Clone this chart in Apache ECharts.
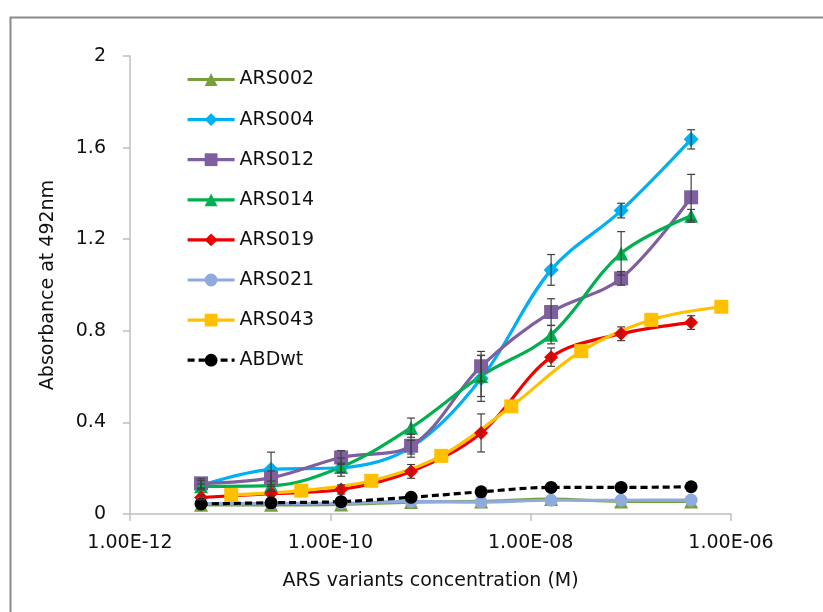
<!DOCTYPE html>
<html><head><meta charset="utf-8">
<script src="https://cdn.jsdelivr.net/npm/echarts@6/dist/echarts.min.js"></script>
<style>html,body{margin:0;padding:0;background:#fff}#c{width:823px;height:612px}</style>
</head><body><div id="c"></div>
<script>
// concentrations (M)
const concMain = [5.12e-12, 2.56e-11, 1.28e-10, 6.4e-10, 3.2e-9, 1.6e-8, 8e-8, 4e-7];
const conc043  = [1.024e-11, 5.12e-11, 2.56e-10, 1.28e-9, 6.4e-9, 3.2e-8, 1.6e-7, 8e-7];
const xTicks = ['1.00E-12','1.00E-10','1.00E-08','1.00E-06'];

const names = ['ARS002','ARS004','ARS012','ARS014','ARS019','ARS021','ARS043','ABDwt'];
const ARS002 = [0.040, 0.040, 0.042, 0.052, 0.055, 0.065, 0.055, 0.055];
const ARS004 = [0.125, 0.195, 0.202, 0.292, 0.592, 1.066, 1.325, 1.636];
const ARS012 = [0.134, 0.158, 0.247, 0.298, 0.645, 0.882, 1.029, 1.383];
const ARS014 = [0.121, 0.124, 0.205, 0.377, 0.603, 0.783, 1.138, 1.302];
const ARS019 = [0.072, 0.089, 0.107, 0.186, 0.354, 0.685, 0.787, 0.836];
const ARS021 = [0.045, 0.046, 0.047, 0.055, 0.052, 0.060, 0.060, 0.061];
const ARS043 = [0.083, 0.102, 0.145, 0.254, 0.470, 0.711, 0.848, 0.905];
const ABDwt  = [0.044, 0.049, 0.054, 0.073, 0.097, 0.116, 0.116, 0.119];

const err004 = [0.02, 0.075, 0.02, 0.03, 0.10, 0.067, 0.032, 0.042];
const err012 = [0.02, 0.03, 0.03, 0.05, 0.065, 0.058, 0.03, 0.10];
const err014 = [0.01, 0.02, 0.04, 0.042, 0.09, 0.04, 0.095, 0.028];
const err019 = [0.01, 0.01, 0.02, 0.03, 0.083, 0.04, 0.03, 0.03];

const colors = {ARS002:'#77A03C',ARS004:'#00B0F0',ARS012:'#7F5F9F',ARS014:'#00B050',
  ARS019:'#EE0000',ARS021:'#8FAADC',ARS043:'#FFC000',ABDwt:'#000000'};
const symbols = {ARS002:'triangle',ARS004:'diamond',ARS012:'rect',ARS014:'triangle',
  ARS019:'diamond',ARS021:'circle',ARS043:'rect',ABDwt:'circle'};
const sizes = {ARS002:14,ARS004:15,ARS012:14,ARS014:14,ARS019:14,ARS021:13,ARS043:14,ABDwt:13};
const values = {ARS002,ARS004,ARS012,ARS014,ARS019,ARS021,ARS043,ABDwt};

const FONT = 'DejaVu Sans';

function pair(xs, ys){ return xs.map((x,i)=>[x, ys[i]]); }

const series = names.map(n => ({
  name: n, type: 'line', smooth: 0.35,
  data: pair(n === 'ARS043' ? conc043 : concMain, values[n]),
  symbol: symbols[n], symbolSize: sizes[n],
  lineStyle: {color: colors[n], width: 3.2, type: n === 'ABDwt' ? [7,4] : 'solid'},
  itemStyle: {color: colors[n]},
  emphasis: {disabled: true},
  z: 2
}));

function errSeries(ys, es){
  return {
    type: 'custom', silent: true, z: 5,
    data: concMain.map((x,i)=>[x, ys[i], es[i]]),
    renderItem: function(params, api){
      const x = api.value(0), y = api.value(1), e = api.value(2);
      const top = api.coord([x, y + e]);
      const bot = api.coord([x, y - e]);
      const w = 4;
      const st = {stroke: '#404040', lineWidth: 1.2};
      return {type: 'group', children: [
        {type:'line', shape:{x1: top[0], y1: top[1], x2: bot[0], y2: bot[1]}, style: st},
        {type:'line', shape:{x1: top[0]-w, y1: top[1], x2: top[0]+w, y2: top[1]}, style: st},
        {type:'line', shape:{x1: bot[0]-w, y1: bot[1], x2: bot[0]+w, y2: bot[1]}, style: st}
      ]};
    }
  };
}
series.push(errSeries(ARS004, err004), errSeries(ARS012, err012),
            errSeries(ARS014, err014), errSeries(ARS019, err019));

const chart = echarts.init(document.getElementById('c'), null, {renderer: 'canvas'});
chart.setOption({
  animation: false,
  backgroundColor: '#fff',
  color: names.map(n => colors[n]),
  grid: {left: 130, right: 92, top: 56, bottom: 98, containLabel: false},
  graphic: [{type: 'rect', left: 8, top: 15, shape: {width: 900, height: 700},
    style: {fill: 'none', stroke: '#8a8a8a', lineWidth: 2}, silent: true}],
  legend: {
    data: names, orient: 'vertical', left: 181, top: 65,
    itemWidth: 47, itemHeight: 16, itemGap: 21.1,
    lineStyle: {width: 3.2},
    textStyle: {fontFamily: FONT, fontSize: 19, color: '#111'},
    selectedMode: false
  },
  xAxis: {
    type: 'log', logBase: 100, min: 1e-12, max: 1e-6,
    name: 'ARS variants concentration (M)', nameLocation: 'middle', nameGap: 58,
    nameTextStyle: {fontFamily: FONT, fontSize: 19, color: '#111'},
    axisLine: {lineStyle: {color: '#BFBFBF', width: 1.5}},
    axisTick: {show: true, length: 7, lineStyle: {color: '#BFBFBF', width: 1.5}},
    minorTick: {show: false},
    splitLine: {show: false},
    axisLabel: {
      fontFamily: FONT, fontSize: 19, color: '#111', margin: 20,
      formatter: function(v){
        const e = Math.round(Math.log10(v));
        const lbl = '1.00E-' + String(-e).padStart(2, '0');
        return xTicks.indexOf(lbl) >= 0 ? lbl : '';
      }
    }
  },
  yAxis: {
    type: 'value', min: 0, max: 2, interval: 0.4,
    name: 'Absorbance at 492nm', nameLocation: 'middle', nameGap: 72,
    nameTextStyle: {fontFamily: FONT, fontSize: 19, color: '#111'},
    axisLine: {show: true, lineStyle: {color: '#BFBFBF', width: 1.5}},
    axisTick: {show: true, length: 7, lineStyle: {color: '#BFBFBF', width: 1.5}},
    splitLine: {show: false},
    axisLabel: {fontFamily: FONT, fontSize: 19, color: '#111', margin: 24,
      formatter: v => String(Math.round(v*10)/10)}
  },
  series: series
});
</script></body></html>
